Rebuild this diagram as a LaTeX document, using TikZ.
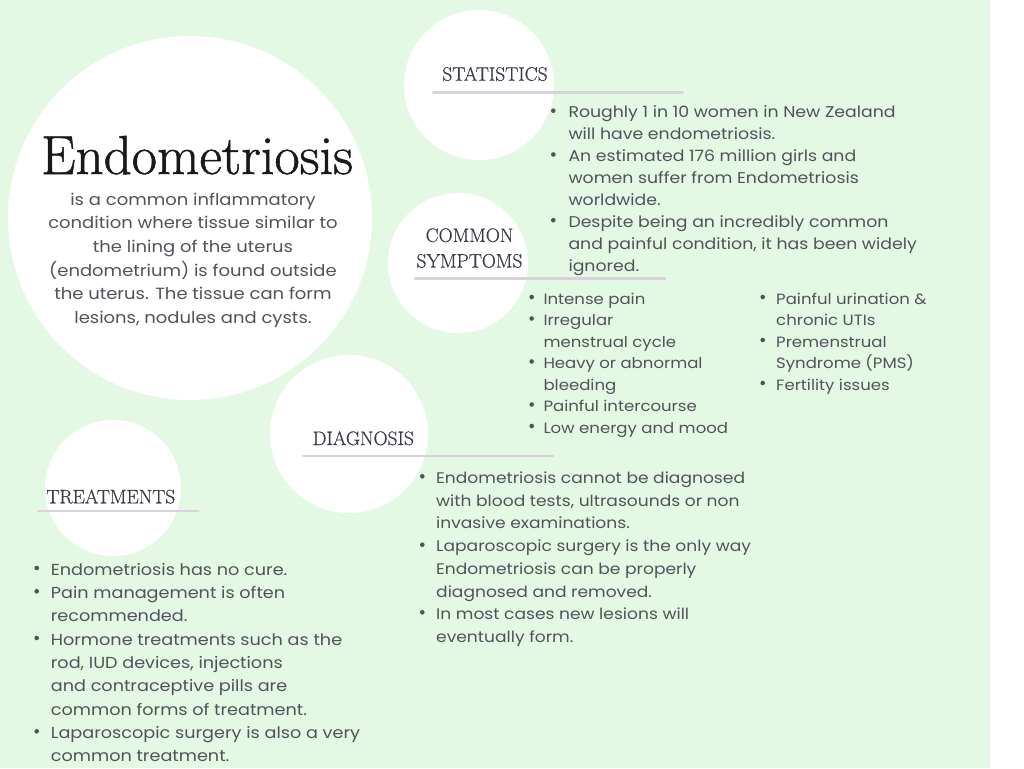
\documentclass[tikz,border=0pt]{standalone}
\usepackage{fontspec}
\newfontfamily\bodyfamily[FakeStretch=1.11]{Poppins}
\newfontfamily\headfamily[FakeBold=0.5]{Latin Modern Roman}
\newfontfamily\titlefamily[FakeBold=1]{Latin Modern Roman}
\usetikzlibrary{positioning}
\definecolor{mint}{HTML}{E3F9E3}
\definecolor{ink}{HTML}{52525B}
\definecolor{slate}{HTML}{3A3A48}
\definecolor{brushgray}{HTML}{DAD1DD}
\tikzset{
  blob/.style={fill=white},
  head/.style={text=slate, inner sep=0pt, font=\headfamily\fontsize{19.5}{25.6}\selectfont},
  brush/.style={draw=brushgray, line width=2.8pt, line cap=round},
  item/.style 2 args={anchor=north west, align=left, text=ink, inner sep=0pt,
    font=\bodyfamily\fontsize{#1}{#2}\selectfont},
  dot/.style={circle, fill=ink, inner sep=0pt, minimum size=4.6pt},
}
\begin{document}
\begin{tikzpicture}[x=1pt,y=-1pt]
\useasboundingbox (0,0) rectangle (1024,768);
% background
\fill[white] (0,0) rectangle (1024,768);
\fill[mint] (0,0) rectangle (990,768);
% circles
\fill[blob] (190,218) circle (182pt);
\fill[blob] (479,85) circle (75pt);
\fill[blob] (458,263) circle (70pt);
\fill[blob] (349,434) circle (79pt);
\fill[blob] (113,488) circle (68pt);
% brush strokes under the headings
\draw[brush] (433.3,92.7) -- (682.7,92.7);
\draw[brush] (415,278.5) -- (665,278.5);
\draw[brush] (303.3,456) -- (552.7,456);
\draw[brush] (38.3,511) -- (198.3,511);
% title
\draw (197,174) node[anchor=base, inner sep=0pt, text=black!90, font=\titlefamily\fontsize{55}{60}\selectfont] (title) {Endometriosis};
\draw (193,188.5) node[anchor=north, align=center, text=ink, inner sep=0pt, font=\bodyfamily\fontsize{16.2}{23.6}\selectfont] (intro)
  {\strut is a common inflammatory\\condition where tissue similar to\\the lining of the uterus\\(endometrium) is found outside\\the uterus. The tissue can form\\lesions, nodules and cysts.};
% headings
\draw (495,80.7) node[head, anchor=base] (stat) {STATISTICS};
\draw (469.5,223.8) node[head, anchor=north, align=center] (sym) {\strut COMMON\\SYMPTOMS};
\draw (363.3,445) node[head, anchor=base] (diag) {DIAGNOSIS};
\draw (110.8,503.3) node[head, anchor=base] (treat) {TREATMENTS};
% statistics
\draw (568.3,102.4) node[item={15.6}{21.9}] (s1) {\strut Roughly 1 in 10 women in New Zealand\\will have endometriosis.};
\draw (568.3,146.2) node[item={15.6}{21.9}] (s2) {\strut An estimated 176 million girls and\\women suffer from Endometriosis\\worldwide.};
\draw (568.3,211.9) node[item={15.6}{21.9}] (s3) {\strut Despite being an incredibly common\\and painful condition, it has been widely\\ignored.};
\draw (553.3,110.7) node[dot] (ds1) {};
\draw (553.3,154.5) node[dot] (ds2) {};
\draw (553.3,220.2) node[dot] (ds3) {};
% symptoms
\draw (543.3,289) node[item={14.9}{21.5}] (y1) {\strut Intense pain};
\draw (543.3,310.5) node[item={14.9}{21.5}] (y2) {\strut Irregular\\menstrual cycle};
\draw (543.3,353.5) node[item={14.9}{21.5}] (y3) {\strut Heavy or abnormal\\bleeding};
\draw (543.3,396.5) node[item={14.9}{21.5}] (y4) {\strut Painful intercourse};
\draw (543.3,418) node[item={14.9}{21.5}] (y5) {\strut Low energy and mood};
\draw (776,289) node[item={14.9}{21.5}] (y6) {\strut Painful urination \&\\chronic UTIs};
\draw (776,332) node[item={14.9}{21.5}] (y7) {\strut Premenstrual\\Syndrome (PMS)};
\draw (776,375) node[item={14.9}{21.5}] (y8) {\strut Fertility issues};
\foreach \yy [count=\i] in {297,318.5,361.5,404.5,426}
  \draw (531.7,\yy) node[dot] (dy\i) {};
\foreach \yy [count=\i from 6] in {297,340,383}
  \draw (762.7,\yy) node[dot] (dy\i) {};
% diagnosis
\draw (436,467.5) node[item={15.4}{22.6}] (g1) {\strut Endometriosis cannot be diagnosed\\with blood tests, ultrasounds or non\\invasive examinations.};
\draw (436,535.9) node[item={15.4}{22.6}] (g2) {\strut Laparoscopic surgery is the only way\\Endometriosis can be properly\\diagnosed and removed.};
\draw (436,603.5) node[item={15.4}{22.6}] (g3) {\strut In most cases new lesions will\\eventually form.};
\foreach \yy [count=\i] in {476.3,544.7,612.3}
  \draw (422.3,\yy) node[dot] (dg\i) {};
% treatments
\draw (50.7,558.7) node[item={15.9}{23.3}] (t1) {\strut Endometriosis has no cure.};
\draw (50.7,582) node[item={15.9}{23.3}] (t2) {\strut Pain management is often\\recommended.};
\draw (50.7,628.7) node[item={15.9}{23.3}] (t3) {\strut Hormone treatments such as the\\rod, IUD devices, injections\\and contraceptive pills are\\common forms of treatment.};
\draw (50.7,722) node[item={15.9}{23.3}] (t4) {\strut Laparoscopic surgery is also a very\\common treatment.};
\foreach \yy [count=\i] in {568,591.3,638,731.3}
  \draw (36.7,\yy) node[dot] (dt\i) {};
\end{tikzpicture}
\end{document}
